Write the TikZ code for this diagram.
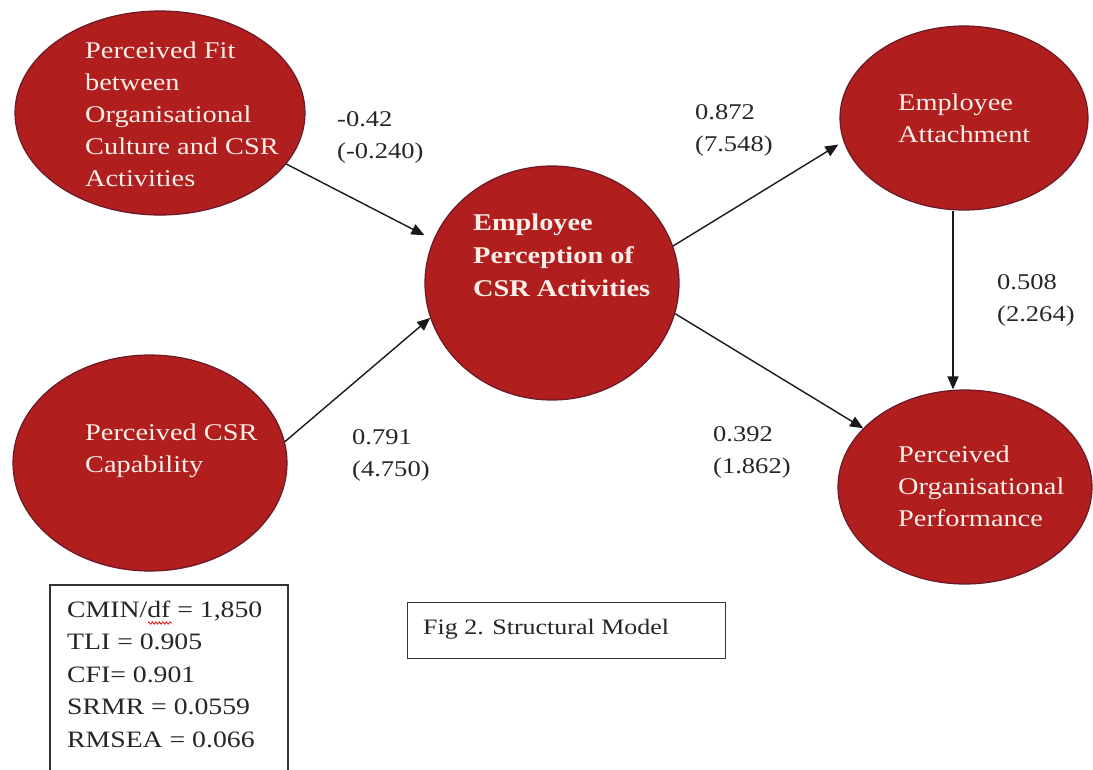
\documentclass[tikz,border=0pt]{standalone}
\usepackage{fontspec}
\setmainfont{Liberation Serif}[FakeStretch=1.18]
\usetikzlibrary{arrows.meta,shapes.geometric,decorations.pathmorphing}
\definecolor{ellred}{RGB}{176,30,30}
\definecolor{ellline}{RGB}{105,25,40}
\definecolor{elltext}{RGB}{252,238,232}
\definecolor{arr}{RGB}{25,25,25}
\begin{document}
\begin{tikzpicture}[x=1pt,y=-1pt,
  construct/.style={ellipse, fill=ellred, draw=ellline, line width=1.2pt, inner sep=0pt},
  etext/.style={anchor=west, align=left, text=elltext, inner sep=0pt, font=\fontsize{24}{32}\selectfont},
  conn/.style={draw=arr, line width=1.4pt, -{Triangle[length=13pt,width=11pt]}},
  coef/.style={anchor=west, align=left, inner sep=0pt, text=black!85, font=\fontsize{22.5}{32}\selectfont},
  fitbox/.style={draw=black!80, line width=1.3pt}]
\useasboundingbox (0,0) rectangle (1093,769);
\fill[white] (0,0) rectangle (1093,769);

% constructs
\node[construct, minimum width=290pt, minimum height=204pt] (fit) at (160,113) {};
\node[construct, minimum width=274pt, minimum height=216pt] (cap) at (150,463) {};
\node[construct, minimum width=254pt, minimum height=234pt] (epc) at (552,283) {};
\node[construct, minimum width=248pt, minimum height=184pt] (att) at (964,118) {};
\node[construct, minimum width=254pt, minimum height=194pt] (perf) at (965,487) {};

% construct texts
\node[etext] (fitT) at (85,114) {Perceived Fit\\between\\Organisational\\Culture and CSR\\Activities};
\node[etext] (capT) at (85,451) {Perceived CSR\\Capability};
\node[etext, font=\fontsize{24}{33}\selectfont\bfseries] (epcT) at (473,255) {Employee\\Perception of\\CSR Activities};
\node[etext] (attT) at (898,118) {Employee\\Attachment};
\node[etext] (perfT) at (898,486) {Perceived\\Organisational\\Performance};

% connectors
\draw[conn, shorten >=10pt] (fit.-22) -- (epc.160);
\draw[conn] (cap.9.5) -- (epc.196);
\draw[conn, shorten >=6pt] (epc.17) -- (att.191);
\draw[conn] (epc.-14) -- (perf.150);
\draw[conn] (att.south -| 953,0) coordinate (attB) -- (attB |- perf.north);

% coefficients
\node[coef] (c1) at (337,137) {-0.42\\(-0.240)};
\node[coef] (c2) at (695,130) {0.872\\(7.548)};
\node[coef] (c3) at (352,455) {0.791\\(4.750)};
\node[coef] (c4) at (713,452) {0.392\\(1.862)};
\node[coef] (c5) at (997,300) {0.508\\(2.264)};

% fit indices box
\draw[fitbox] (50,775) -- (50,585) -- (288,585) -- (288,775);
\node[coef, font=\fontsize{23.5}{32.5}\selectfont] (fitidx) at (67,674)
  {CMIN/df = 1,850\\TLI = 0.905\\CFI= 0.901\\SRMR = 0.0559\\RMSEA = 0.066};
\draw[red!80!black, line width=0.7pt, decorate, decoration={zigzag, amplitude=1.2pt, segment length=3.5pt}] (148,623) -- (172,623);

% caption box
\node[fitbox, anchor=north west, minimum width=318pt, minimum height=56pt, inner sep=0pt] (capbox) at (407,602) {};
\node[coef, font=\fontsize{22}{28}\selectfont] (caption) at (423,629) {Fig 2. Structural Model};
\end{tikzpicture}
\end{document}
